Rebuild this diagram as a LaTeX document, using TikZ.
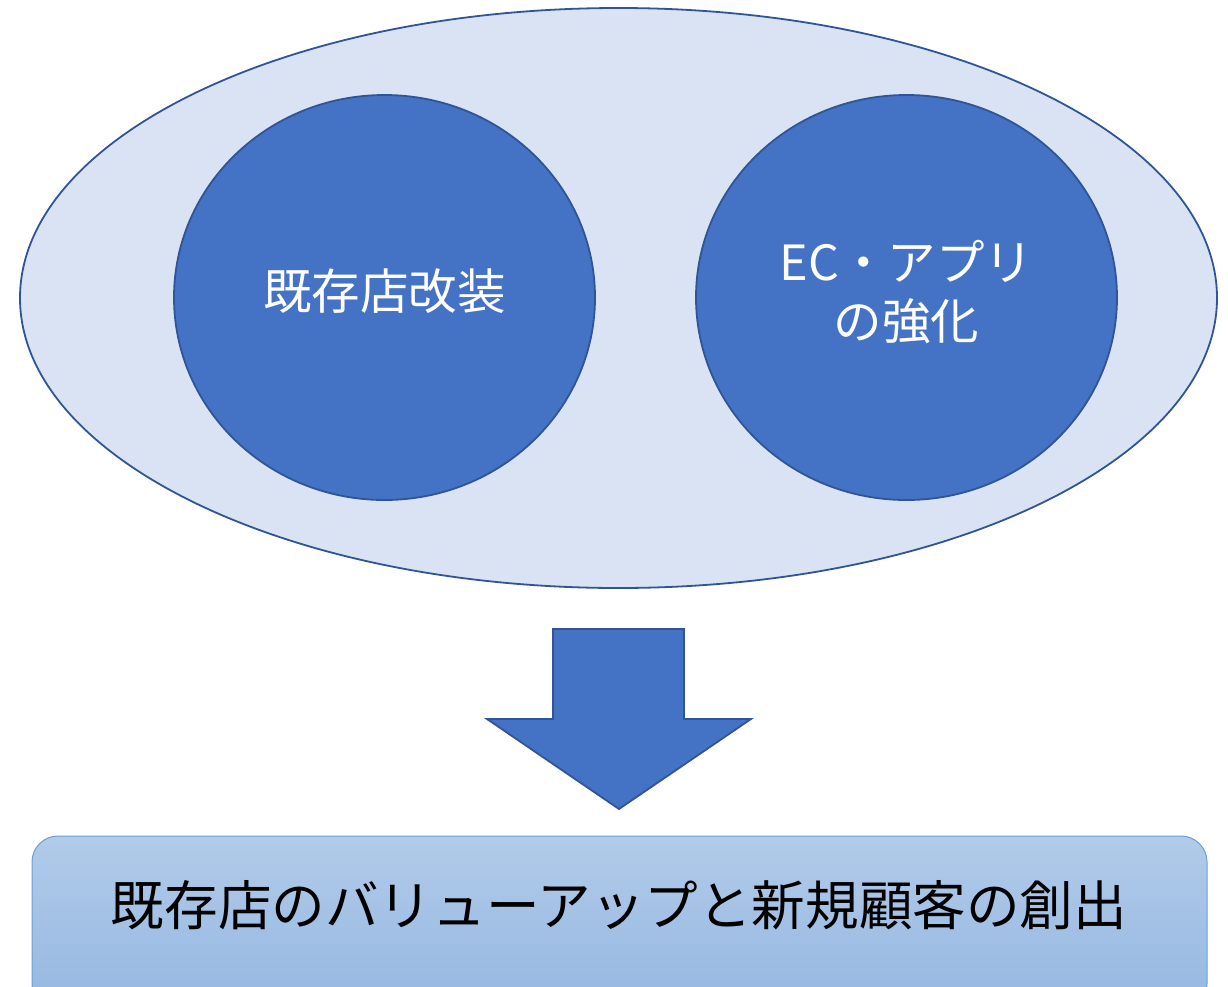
\documentclass[tikz,border=0pt]{standalone}
\usepackage{fontspec}
\setmainfont{Noto Sans CJK JP}
\newfontfamily\cjk{Noto Sans CJK JP}
\definecolor{outerfill}{HTML}{DAE3F3}
\definecolor{darkline}{HTML}{2F5597}
\definecolor{accent}{HTML}{4472C4}
\definecolor{boxtop}{HTML}{B1CBE9}
\definecolor{boxbot}{HTML}{95B7E1}
\definecolor{boxline}{HTML}{6A9FD6}
\begin{document}
\begin{tikzpicture}[x=1pt,y=-1pt,
  shapeline/.style={draw=darkline, line width=1.8pt},
  intext/.style={text=white, font=\cjk\fontsize{48.5}{59}\selectfont, align=center}]
\useasboundingbox (0,0) rectangle (1228,986);
% outer ellipse
\draw[fill=outerfill, shapeline] (618.5,298) ellipse [x radius=598.5, y radius=290];
% inner circles
\draw[fill=accent, shapeline] (384.5,297.5) ellipse [x radius=210.5, y radius=202.5];
\draw[fill=accent, shapeline] (906.5,297.5) ellipse [x radius=210.5, y radius=202.5];
\node[intext] (left) at (384.5,291) {既存店改装};
\node[intext] (right) at (906.5,292) {EC・アプリ\\の強化};
% arrow
\draw[fill=accent, shapeline]
  (553,629) -- (684,629) -- (684,719) -- (751,719) -- (619,809) -- (487,719) -- (553,719) -- cycle;
% bottom box
\shade[top color=boxtop, bottom color=boxbot, rounded corners=26pt]
  (32,836) rectangle (1207,1010);
\draw[draw=boxline, line width=1pt, rounded corners=26pt] (32,1010) rectangle (1207,836);
\node[text=black, font=\cjk\fontsize{53.6}{60}\selectfont] (result) at (619,905) {既存店のバリューアップと新規顧客の創出};
\end{tikzpicture}
\end{document}
